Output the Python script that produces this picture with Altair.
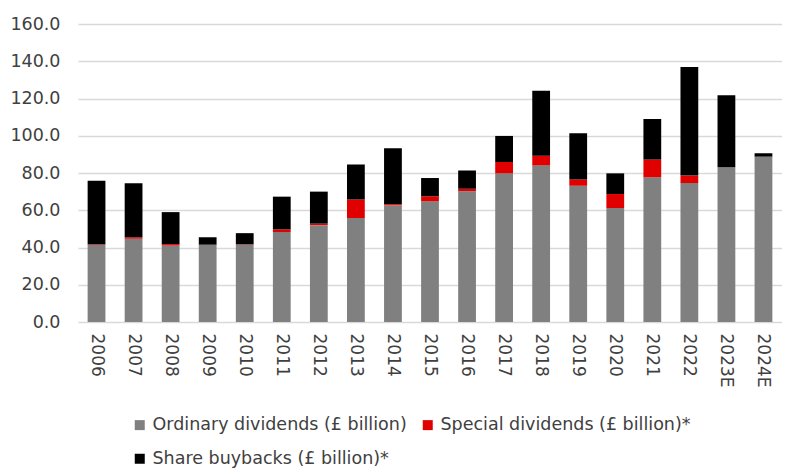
import altair as alt
import pandas as pd

years = ["2006", "2007", "2008", "2009", "2010", "2011", "2012", "2013", "2014", "2015",
         "2016", "2017", "2018", "2019", "2020", "2021", "2022", "2023E", "2024E"]
ordinary = [41.5, 44.7, 41.0, 41.5, 41.5, 48.3, 52.0, 55.8, 62.7, 64.8,
            70.2, 79.8, 84.1, 73.2, 61.2, 77.7, 74.6, 83.1, 88.8]
special = [0.3, 0.8, 0.8, 0.0, 0.2, 1.4, 0.8, 10.0, 0.6, 2.7,
           1.4, 6.1, 5.2, 3.3, 7.5, 9.5, 4.0, 0.0, 0.0]
buybacks = [34.0, 29.0, 17.2, 4.0, 6.0, 17.6, 17.2, 18.8, 30.0, 9.8,
            9.7, 14.0, 34.9, 24.8, 11.1, 21.8, 58.3, 38.6, 1.8]

series = ["Ordinary dividends (£ billion)", "Special dividends (£ billion)*", "Share buybacks (£ billion)*"]
colors = ["#808080", "#e00000", "#000000"]

rows = []
for i, y in enumerate(years):
    for k, (name, vals) in enumerate(zip(series, [ordinary, special, buybacks])):
        rows.append({"year": y, "series": name, "value": vals[i], "order": k})
df = pd.DataFrame(rows)

FONT = "DejaVu Sans"

chart = alt.Chart(df).mark_bar().encode(
    x=alt.X("year:N", sort=years, title=None,
            scale=alt.Scale(paddingInner=0.52, paddingOuter=0.26),
            axis=alt.Axis(labelAngle=90, labelFontSize=17, labelColor="#404040",
                          labelFont=FONT, ticks=False, domain=False, labelPadding=11,
                          labelBaseline="middle", labelAlign="left")),
    y=alt.Y("value:Q", stack="zero", title=None,
            scale=alt.Scale(domain=[0, 160], nice=False),
            axis=alt.Axis(values=[0, 20, 40, 60, 80, 100, 120, 140, 160], format=".1f",
                          labelFontSize=17.5, labelColor="#404040", labelFont=FONT,
                          ticks=False, domain=False, labelPadding=18,
                          gridColor="#d9d9d9", gridWidth=1.5)),
    color=alt.Color("series:N", sort=series,
                    scale=alt.Scale(domain=series, range=colors),
                    legend=alt.Legend(title=None, orient="none", legendX=53, legendY=392,
                                      direction="horizontal", columns=2,
                                      symbolType="square", symbolSize=100,
                                      symbolStrokeWidth=0, symbolOpacity=1,
                                      labelFontSize=17.5, labelColor="#404040", labelFont=FONT,
                                      labelOffset=4, rowPadding=15, columnPadding=12,
                                      labelLimit=400)),
    order=alt.Order("order:Q", sort="ascending"),
).properties(
    width=704, height=298,
    padding={"left": 1, "top": 7, "right": 0, "bottom": 0},
).configure_view(stroke=None)

chart.save("out.html", embed_options={"renderer": "svg", "actions": False})
